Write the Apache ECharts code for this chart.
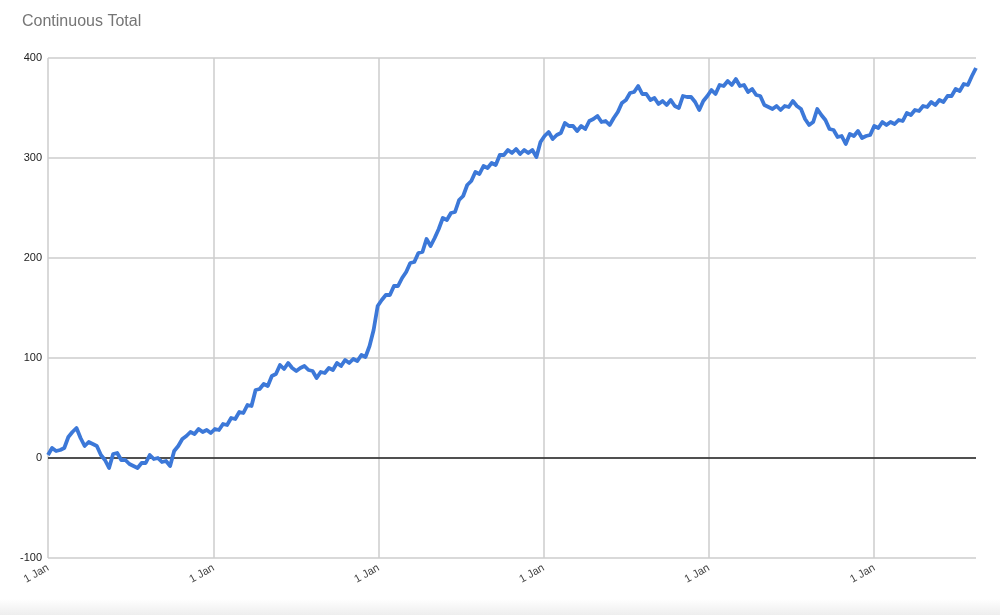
<!DOCTYPE html>
<html>
<head>
<meta charset="utf-8">
<script src="https://cdn.jsdelivr.net/npm/echarts@6/dist/echarts.min.js"></script>
<style>
  html, body { margin: 0; padding: 0; background: #fff; }
  #chart { width: 1000px; height: 615px; }
</style>
</head>
<body>
<div id="chart"></div>
<script>
const chartTitle = 'Continuous Total';
const startDate = '2016-01-01';
const stepDays = 9;
const totals = [
  3, 10, 7, 8, 10, 21, 26, 30, 20, 12, 16, 14, 12, 3, -2, -10, 4, 5, -2, -2,
  -6, -8, -10, -5, -5, 3, -1, 0, -4, -3, -8, 7, 12, 19, 22, 26, 24, 29, 26, 28,
  25, 29, 28, 34, 33, 40, 39, 46, 45, 53, 52, 68, 69, 74, 72, 82, 84, 93, 89, 95,
  90, 87, 90, 92, 88, 87, 80, 86, 85, 90, 88, 95, 92, 98, 95, 99, 97, 103, 101, 112,
  128, 152, 158, 163, 163, 172, 172, 180, 186, 195, 196, 205, 206, 219, 212, 220, 229, 240, 238, 245,
  246, 258, 262, 273, 277, 286, 284, 292, 290, 295, 293, 303, 303, 308, 305, 309, 304, 308, 305, 308,
  301, 316, 322, 326, 319, 323, 325, 335, 332, 332, 327, 332, 329, 337, 339, 342, 336, 337, 333, 340,
  346, 355, 358, 365, 366, 372, 364, 364, 358, 360, 354, 357, 353, 358, 352, 350, 362, 361, 361, 356,
  348, 357, 362, 368, 364, 373, 372, 377, 373, 379, 372, 373, 366, 369, 363, 362, 353, 351, 349, 352,
  348, 352, 351, 357, 352, 349, 339, 333, 336, 349, 343, 338, 329, 328, 321, 322, 314, 324, 322, 327,
  320, 322, 323, 332, 330, 336, 333, 336, 334, 338, 337, 345, 343, 348, 347, 352, 351, 356, 353, 358,
  356, 362, 362, 369, 367, 374, 373, 382, 390
];
const yearStarts = ['2016-01-01', '2017-01-01', '2018-01-01', '2019-01-01', '2020-01-01', '2021-01-01'];
const yTicks = [-100, 0, 100, 200, 300, 400];
const xTickLabel = '1 Jan';

const DAY = 86400000;
const t0 = Date.parse(startDate + 'T00:00:00Z');
const seriesData = totals.map((v, i) => [t0 + i * stepDays * DAY, v]);
const gridColor = '#cccccc';

const markLines = yearStarts.map(d => ({
  xAxis: Date.parse(d + 'T00:00:00Z'),
  lineStyle: { color: gridColor, width: 1.5, type: 'solid' }
}));
markLines.push({ yAxis: 0, lineStyle: { color: '#222222', width: 1.5, type: 'solid' } });

const chart = echarts.init(document.getElementById('chart'), null, { renderer: 'canvas' });
const font = 'Arial, "Liberation Sans", Helvetica, sans-serif';
chart.setOption({
  animation: false,
  backgroundColor: '#ffffff',
  title: {
    text: chartTitle,
    left: 22, top: 14, padding: 0,
    textStyle: { fontFamily: font, fontSize: 16, fontWeight: 'normal', color: '#757575' }
  },
  grid: { left: 48, right: 24, top: 58, bottom: 57, containLabel: false },
  xAxis: {
    type: 'time',
    min: t0,
    max: 'dataMax',
    minInterval: 365 * DAY,
    maxInterval: 366 * DAY,
    axisLine: { show: false },
    axisTick: { show: false },
    splitLine: { show: false },
    axisLabel: {
      rotate: 30,
      margin: 9,
      showMinLabel: true,
      fontFamily: font, fontSize: 11, color: '#444444',
      formatter: () => xTickLabel
    }
  },
  yAxis: {
    type: 'value',
    min: yTicks[0], max: yTicks[yTicks.length - 1], interval: 100,
    axisLine: { show: false },
    axisTick: { show: false },
    splitLine: { show: true, lineStyle: { color: gridColor, width: 1.5 } },
    axisLabel: { margin: 6, fontFamily: font, fontSize: 11, color: '#222222' }
  },
  series: [{
    type: 'line',
    data: seriesData,
    showSymbol: false,
    symbol: 'none',
    lineStyle: { color: '#3c78d8', width: 3.8, join: 'round' },
    itemStyle: { color: '#3c78d8' },
    markLine: {
      silent: true, symbol: 'none', label: { show: false },
      z: 1,
      data: markLines
    },
    z: 3
  }],
  graphic: [{
    type: 'rect', left: 0, top: 599, z: -1,
    shape: { width: 1000, height: 16 },
    style: {
      fill: new echarts.graphic.LinearGradient(0, 0, 0, 1, [
        { offset: 0, color: '#ffffff' }, { offset: 1, color: '#eeeeee' }
      ])
    }
  }]
});
</script>
</body>
</html>
